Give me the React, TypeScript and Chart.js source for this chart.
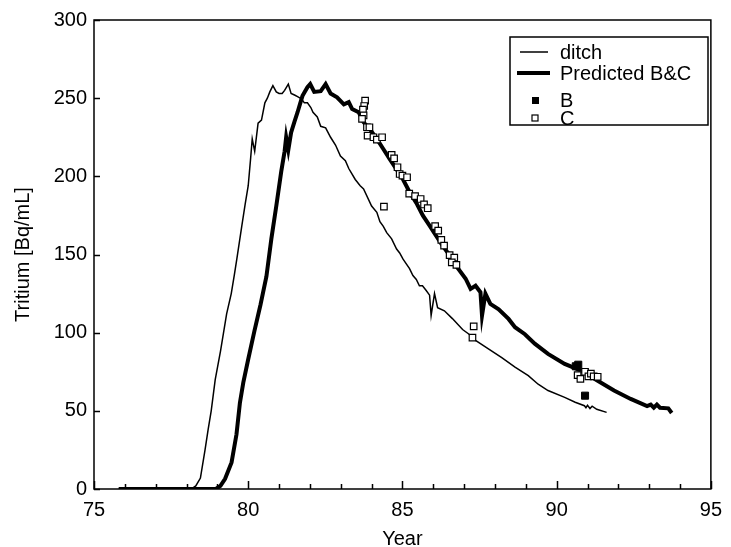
import React, { useEffect, useRef } from "react";
import { Chart, registerables } from "chart.js";

Chart.register(...registerables);

const seriesLabels = ["ditch", "Predicted B&C", "B", "C"];
const yTicks = [0, 50, 100, 150, 200, 250, 300];
const xTicks = [75, 80, 85, 90, 95];

// ditch (thin line): [year, Bq/mL]
const ditchYears = [
  75.8, 78.15, 78.3, 78.45, 78.6, 78.7, 78.8, 78.93, 79.1, 79.3, 79.45, 79.55, 79.63, 79.79, 79.9, 80.0, 80.08,
  80.13, 80.21, 80.32, 80.43, 80.54, 80.62, 80.7, 80.8, 80.91, 81.0, 81.1, 81.18, 81.3, 81.39, 81.5, 81.6, 81.73,
  81.82, 81.92, 82.03, 82.1, 82.24, 82.35, 82.51, 82.67, 82.83, 82.99, 83.15, 83.26, 83.47, 83.63, 83.74, 84.0,
  84.17, 84.27, 84.38, 84.49, 84.65, 84.81, 84.91, 85.02, 85.23, 85.34, 85.45, 85.55, 85.65, 85.77, 85.88, 85.93,
  86.04, 86.14, 86.36, 86.62, 86.95, 87.16, 87.37, 87.8, 88.22, 88.65, 89.08, 89.4, 89.72, 90.26, 90.6, 90.9,
  90.95, 91.0, 91.08, 91.15, 91.3, 91.62,
];
const ditchValues = [
  0, 0, 2, 7, 25, 38, 50, 70, 88, 112, 125, 137, 147, 168, 182, 194, 212,
  224, 216, 234, 236, 247, 250, 254, 258, 254, 253, 253, 255, 259, 253, 252, 251, 249.5,
  247, 247, 244, 241, 238, 232, 231, 225, 220, 213, 210, 205, 198, 194, 192, 181,
  177, 171, 168, 164, 160, 153.5, 151, 147, 141, 136.5, 134, 130, 130, 127, 124, 111,
  125, 116, 114, 109, 102, 99, 95, 89.5, 84, 78, 72.5, 67, 63, 58.6, 55.5, 53.3,
  52, 53.5, 51.5, 53, 51, 49,
];

// Predicted B&C (thick line)
const predYears = [
  75.8, 78.95, 79.1, 79.25, 79.46, 79.62, 79.73, 79.84, 80.0, 80.2, 80.4, 80.59, 80.75, 80.91, 81.07, 81.18,
  81.23, 81.3, 81.39, 81.5, 81.6, 81.69, 81.76, 81.92, 82.01, 82.14, 82.35, 82.51, 82.67, 82.88, 83.1, 83.26,
  83.37, 83.58, 83.74, 83.95, 84.17, 84.38, 84.59, 84.81, 85.02, 85.23, 85.45, 85.66, 85.88, 86.09, 86.3, 86.62,
  86.73, 87.05, 87.21, 87.37, 87.53, 87.58, 87.69, 87.85, 88.12, 88.44, 88.65, 88.97, 89.29, 89.72, 90.26, 90.79,
  91.33, 91.86, 92.4, 92.93, 93.05, 93.15, 93.25, 93.35, 93.62, 93.73,
];
const predValues = [
  0, 0, 2, 6.5, 17, 35, 55, 68, 83, 101, 118, 136, 160, 181, 203, 216,
  225, 217, 228, 235, 241, 247, 251.5, 257, 259, 254, 254.5, 259, 253, 250.5, 246, 247.5,
  243, 241, 234.6, 230, 224, 217.5, 211, 204.5, 198, 190, 183, 175, 168.5, 162, 155.7, 147,
  143, 134.5, 128, 130, 125.8, 111, 125, 118.4, 115, 108.8, 103.5, 99, 93, 86.4, 80, 75.7,
  69.3, 63, 57.6, 53, 54, 52, 54, 52, 51.6, 48.6,
];

// B (filled squares)
const bYears = [90.62, 90.7, 90.92];
const bValues = [78.5, 79.5, 59.7];

// C (open squares)
const cYears = [
  83.79, 83.76, 83.72, 83.74, 83.69, 83.85, 83.93, 83.87, 84.06, 84.17, 84.34, 84.4, 84.65, 84.73, 84.84, 84.91,
  85.0, 85.15, 85.22, 85.41, 85.59, 85.7, 85.82, 86.06, 86.16, 86.26, 86.35, 86.53, 86.68, 86.6, 86.75, 87.31,
  87.27, 90.68, 90.77, 90.92, 91.03, 91.11, 91.2, 91.33,
];
const cValues = [
  248.4, 245, 242.7, 239, 236.7, 231.4, 231.4, 226, 225, 223.5, 225, 180.6, 213.7, 211.5, 205.8, 201.5,
  200.4, 199.4, 189, 187.3, 185.5, 182, 179.6, 168.2, 165.3, 159.3, 155.7, 149.6, 148, 145, 143.4, 104,
  96.8, 72.9, 70.4, 75, 72.1, 73.8, 72.1, 71.8,
];

const pts = (xs: number[], ys: number[]) => xs.map((x, i) => ({ x, y: ys[i] }));

const FONT = "'Liberation Sans', Arial, Helvetica, sans-serif";

const decorPlugin = {
  id: "decor",
  afterDraw(chart: any) {
    const { ctx, chartArea: a, scales } = chart;
    const xs = scales.x;
    const ys = scales.y;
    ctx.save();
    ctx.strokeStyle = "#000";
    ctx.lineWidth = 1.5;
    ctx.strokeRect(a.left, a.top, a.right - a.left, a.bottom - a.top);
    ctx.beginPath();
    for (let v = 75; v <= 95; v++) {
      const px = Math.round(xs.getPixelForValue(v)) + 0.5;
      const len = v % 5 === 0 ? 8 : 5;
      ctx.moveTo(px, a.bottom);
      ctx.lineTo(px, a.bottom - len);
    }
    for (const v of yTicks) {
      const py = Math.round(ys.getPixelForValue(v)) + 0.5;
      ctx.moveTo(a.left, py);
      ctx.lineTo(a.left + 6, py);
    }
    ctx.stroke();

    // legend
    const L = 510, T = 37, R = 708, B = 125;
    ctx.fillStyle = "#fff";
    ctx.fillRect(L, T, R - L, B - T);
    ctx.lineWidth = 1.5;
    ctx.strokeRect(L, T, R - L, B - T);
    const rows = [52, 73, 100, 118];
    ctx.font = `20px ${FONT}`;
    ctx.textBaseline = "middle";
    ctx.textAlign = "left";
    ctx.fillStyle = "#000";
    seriesLabels.forEach((lab, i) => ctx.fillText(lab, 560, rows[i] + 1));
    ctx.lineWidth = 1.5;
    ctx.beginPath();
    ctx.moveTo(520, rows[0]);
    ctx.lineTo(548, rows[0]);
    ctx.stroke();
    ctx.lineWidth = 4;
    ctx.beginPath();
    ctx.moveTo(517, rows[1]);
    ctx.lineTo(550, rows[1]);
    ctx.stroke();
    ctx.fillStyle = "#000";
    ctx.fillRect(532, rows[2] - 3, 7, 7);
    ctx.fillStyle = "#fff";
    ctx.lineWidth = 1.2;
    ctx.fillRect(532, rows[3] - 3, 6, 6);
    ctx.strokeRect(532, rows[3] - 3, 6, 6);
    ctx.restore();
  },
};

export default function App() {
  const ref = useRef<HTMLCanvasElement>(null);
  useEffect(() => {
    if (!ref.current) return;
    const chart = new Chart(ref.current, {
      type: "scatter",
      data: {
        datasets: [
          {
            label: seriesLabels[0],
            data: pts(ditchYears, ditchValues),
            showLine: true,
            borderColor: "#000",
            borderWidth: 1.5,
            pointRadius: 0,
            tension: 0,
            order: 3,
          },
          {
            label: seriesLabels[1],
            data: pts(predYears, predValues),
            showLine: true,
            borderColor: "#000",
            borderWidth: 4,
            pointRadius: 0,
            tension: 0,
            order: 2,
          },
          {
            label: seriesLabels[2],
            data: pts(bYears, bValues),
            pointStyle: "rect",
            pointRadius: 5,
            backgroundColor: "#000",
            borderColor: "#000",
            borderWidth: 1,
            order: 1,
          },
          {
            label: seriesLabels[3],
            data: pts(cYears, cValues),
            pointStyle: "rect",
            pointRadius: 4.6,
            backgroundColor: "#fff",
            borderColor: "#000",
            borderWidth: 1.2,
            order: 0,
          },
        ],
      },
      options: {
        responsive: false,
        animation: false,
        events: [],
        layout: { padding: { left: 0, top: 20, right: 13, bottom: 0 } },
        plugins: { legend: { display: false }, tooltip: { enabled: false } },
        scales: {
          x: {
            type: "linear",
            min: 75,
            max: 95,
            afterFit: (s: any) => {
              s.height = 58;
            },
            afterBuildTicks: (s: any) => {
              s.ticks = xTicks.map((v) => ({ value: v }));
            },
            grid: { display: false, drawTicks: false },
            border: { display: false },
            ticks: { color: "#000", padding: 9, font: { family: FONT, size: 20 }, maxRotation: 0 },
            title: {
              display: true,
              text: "Year",
              color: "#000",
              font: { family: FONT, size: 20, lineHeight: 0.8 },
              padding: 0,
            },
          },
          y: {
            type: "linear",
            min: 0,
            max: 300,
            afterFit: (s: any) => {
              s.width = 94;
            },
            afterBuildTicks: (s: any) => {
              s.ticks = yTicks.map((v) => ({ value: v }));
            },
            grid: { display: false, drawTicks: false },
            border: { display: false },
            ticks: { color: "#000", padding: 7, font: { family: FONT, size: 20 } },
            title: {
              display: true,
              text: "Tritium [Bq/mL]",
              color: "#000",
              font: { family: FONT, size: 20, lineHeight: 1.2 },
              padding: { top: 11, bottom: 0 },
            },
          },
        },
      },
      plugins: [decorPlugin],
    });
    return () => chart.destroy();
  }, []);
  return (
    <div style={{ position: "fixed", left: 0, top: 0, width: 731, height: 547, background: "#fff" }}>
      <canvas ref={ref} width={731} height={547} style={{ display: "block", width: 731, height: 547 }} />
    </div>
  );
}
